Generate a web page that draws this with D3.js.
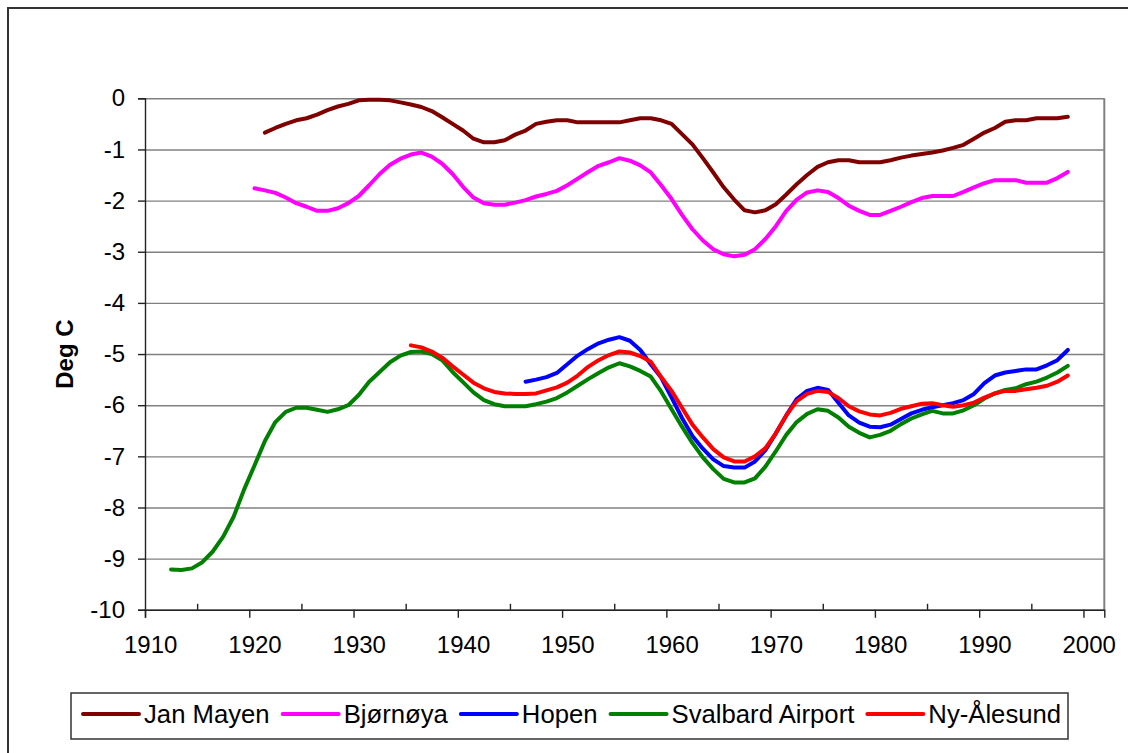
<!DOCTYPE html>
<html><head><meta charset="utf-8">
<script src="https://cdn.jsdelivr.net/npm/d3@7"></script>
<style>
html,body{margin:0;padding:0;background:#fff;}
svg{display:block;font-family:"Liberation Sans",Arial,sans-serif;}
</style></head>
<body>
<svg id="chart" width="1128" height="753"></svg>
<script>
// ---- data ----
const seriesNames = ["Jan Mayen", "Bjørnøya", "Hopen", "Svalbard Airport", "Ny-Ålesund"];
const seriesColors = ["#800000", "#FF00FF", "#0000FF", "#008000", "#FF0000"];

const janMayenStart = 1921;
const janMayen = [-0.67,-0.58,-0.5,-0.43,-0.39,-0.32,-0.23,-0.16,-0.11,-0.04,
  -0.03,-0.03,-0.04,-0.08,-0.12,-0.17,-0.25,-0.37,-0.5,-0.63,
  -0.79,-0.86,-0.86,-0.82,-0.71,-0.63,-0.5,-0.46,-0.43,-0.43,
  -0.47,-0.47,-0.47,-0.47,-0.47,-0.43,-0.39,-0.39,-0.43,-0.5,
  -0.7,-0.9,-1.17,-1.45,-1.74,-1.98,-2.19,-2.23,-2.19,-2.07,
  -1.88,-1.68,-1.5,-1.34,-1.25,-1.21,-1.21,-1.25,-1.25,-1.25,
  -1.21,-1.16,-1.12,-1.09,-1.06,-1.02,-0.97,-0.91,-0.79,-0.67,
  -0.58,-0.46,-0.43,-0.43,-0.39,-0.39,-0.39,-0.36];

const bjornoyaStart = 1920;
const bjornoya = [-1.76,-1.8,-1.85,-1.94,-2.05,-2.12,-2.2,-2.2,-2.15,-2.05,
  -1.91,-1.7,-1.48,-1.3,-1.18,-1.1,-1.06,-1.14,-1.28,-1.48,
  -1.73,-1.94,-2.05,-2.08,-2.08,-2.04,-1.99,-1.92,-1.87,-1.81,
  -1.7,-1.57,-1.44,-1.32,-1.25,-1.17,-1.22,-1.31,-1.45,-1.7,
  -1.97,-2.28,-2.56,-2.78,-2.95,-3.05,-3.09,-3.06,-2.95,-2.75,
  -2.5,-2.2,-1.98,-1.84,-1.8,-1.83,-1.95,-2.1,-2.2,-2.28,
  -2.28,-2.2,-2.12,-2.03,-1.95,-1.91,-1.91,-1.91,-1.83,-1.74,
  -1.66,-1.6,-1.6,-1.6,-1.65,-1.65,-1.65,-1.56,-1.44];

const hopenStart = 1946;
const hopen = [-5.54,-5.5,-5.45,-5.37,-5.2,-5.03,-4.9,-4.79,-4.72,-4.67,
  -4.74,-4.92,-5.2,-5.46,-5.85,-6.25,-6.6,-6.85,-7.06,-7.19,
  -7.22,-7.22,-7.1,-6.88,-6.55,-6.2,-5.88,-5.72,-5.66,-5.7,
  -5.95,-6.2,-6.34,-6.42,-6.43,-6.38,-6.27,-6.16,-6.09,-6.04,
  -6.0,-5.96,-5.9,-5.78,-5.57,-5.42,-5.36,-5.33,-5.3,-5.3,
  -5.22,-5.12,-4.92];

const svalbardStart = 1912;
const svalbard = [-9.21,-9.22,-9.19,-9.07,-8.86,-8.57,-8.18,-7.65,-7.18,-6.7,
  -6.33,-6.13,-6.05,-6.05,-6.09,-6.13,-6.08,-6.0,-5.8,-5.54,
  -5.35,-5.16,-5.03,-4.96,-4.95,-5.0,-5.12,-5.35,-5.55,-5.75,
  -5.9,-5.98,-6.02,-6.02,-6.02,-5.98,-5.93,-5.86,-5.75,-5.62,
  -5.49,-5.37,-5.26,-5.18,-5.24,-5.33,-5.44,-5.73,-6.08,-6.42,
  -6.74,-7.02,-7.25,-7.44,-7.51,-7.51,-7.43,-7.2,-6.9,-6.58,
  -6.33,-6.17,-6.08,-6.11,-6.24,-6.42,-6.54,-6.63,-6.58,-6.5,
  -6.37,-6.26,-6.18,-6.11,-6.16,-6.16,-6.1,-6.0,-5.87,-5.77,
  -5.7,-5.67,-5.59,-5.54,-5.46,-5.36,-5.23];

const nyAlesundStart = 1935;
const nyAlesund = [-4.83,-4.87,-4.95,-5.07,-5.24,-5.4,-5.56,-5.67,-5.74,-5.77,
  -5.78,-5.78,-5.77,-5.71,-5.65,-5.56,-5.42,-5.25,-5.12,-5.02,
  -4.95,-4.97,-5.04,-5.15,-5.45,-5.72,-6.05,-6.38,-6.63,-6.86,
  -7.02,-7.1,-7.1,-7.0,-6.84,-6.55,-6.2,-5.92,-5.78,-5.72,
  -5.74,-5.86,-6.02,-6.12,-6.18,-6.2,-6.15,-6.07,-6.02,-5.97,
  -5.96,-6.0,-6.03,-6.0,-5.95,-5.85,-5.77,-5.72,-5.72,-5.69,
  -5.66,-5.62,-5.54,-5.42];

const xTickLabels = [1910,1920,1930,1940,1950,1960,1970,1980,1990,2000];
const yTickValues = [0,-1,-2,-3,-4,-5,-6,-7,-8,-9,-10];
const yTitle = "Deg C";

// ---- layout ----
const svg = d3.select("#chart");
const L = 145, R = 1104.3, T = 98.3, B = 609.8;

// outer chart border
svg.append("rect").attr("x", 8).attr("y", 8).attr("width", 1140).attr("height", 770)
  .attr("fill", "#fff").attr("stroke", "#333").attr("stroke-width", 2);

const x = d3.scaleLinear().domain([1909.5, 2001.5]).range([L, R]);
const y = d3.scaleLinear().domain([-10, 0]).range([B, T]);

// gridlines
svg.append("g").attr("transform", `translate(${L},0)`)
  .call(d3.axisLeft(y).tickValues(yTickValues).tickSize(-(R - L)).tickFormat(""))
  .call(g => g.select(".domain").remove())
  .call(g => g.selectAll("line").attr("stroke", "#808080").attr("stroke-width", 1.4));

// right border of plot
svg.append("line").attr("x1", R).attr("x2", R).attr("y1", T).attr("y2", B)
  .attr("stroke", "#808080").attr("stroke-width", 2);

// y axis
svg.append("g").attr("transform", `translate(${L},0)`)
  .call(d3.axisLeft(y).tickValues(yTickValues).tickSize(7).tickPadding(13).tickFormat(d => String(d)))
  .call(g => g.select(".domain").attr("stroke", "#222").attr("stroke-width", 1.4))
  .call(g => g.selectAll("line").attr("stroke", "#222").attr("stroke-width", 1.4))
  .call(g => g.selectAll("text").attr("font-size", 24).attr("fill", "#000")
    .attr("font-family", "'Liberation Sans', Arial, sans-serif"));

// x axis: major ticks (outside), minor ticks (inside), labels
const majorTicks = xTickLabels.map(v => v - 0.5);
const minorTicks = xTickLabels.slice(0, -1).map(v => v + 4.5);
svg.append("g").attr("transform", `translate(0,${B})`)
  .call(d3.axisBottom(x).tickValues(majorTicks).tickSize(8).tickFormat(""))
  .call(g => g.select(".domain").attr("stroke", "#222").attr("stroke-width", 1.4))
  .call(g => g.selectAll("line").attr("stroke", "#222").attr("stroke-width", 1.4));
svg.append("g").attr("transform", `translate(0,${B})`)
  .call(d3.axisBottom(x).tickValues(minorTicks).tickSize(-6).tickFormat(""))
  .call(g => g.select(".domain").remove())
  .call(g => g.selectAll("line").attr("stroke", "#222").attr("stroke-width", 1.4));
svg.append("g").attr("transform", `translate(0,${B})`)
  .call(d3.axisBottom(x).tickValues(xTickLabels).tickSize(0).tickPadding(26).tickFormat(d => String(d)))
  .call(g => g.select(".domain").remove())
  .call(g => g.selectAll("text").attr("font-size", 24).attr("fill", "#000")
    .attr("font-family", "'Liberation Sans', Arial, sans-serif"));

// y title
svg.append("text").attr("transform", `translate(73,${(T + B) / 2}) rotate(-90)`)
  .attr("text-anchor", "middle").attr("font-size", 24).attr("font-weight", "bold")
  .text(yTitle);

// series
const allSeries = [
  {start: janMayenStart, values: janMayen},
  {start: bjornoyaStart, values: bjornoya},
  {start: hopenStart, values: hopen},
  {start: svalbardStart, values: svalbard},
  {start: nyAlesundStart, values: nyAlesund}
];
const line = d3.line().x(d => x(d[0])).y(d => y(d[1]));
allSeries.forEach((s, i) => {
  const pts = s.values.map((v, k) => [s.start + k, v]);
  svg.append("path").datum(pts).attr("d", line)
    .attr("fill", "none").attr("stroke", seriesColors[i]).attr("stroke-width", 4)
    .attr("stroke-linejoin", "round").attr("stroke-linecap", "round");
});

// legend
const legend = svg.append("g");
legend.append("rect").attr("x", 71).attr("y", 693).attr("width", 997).attr("height", 46)
  .attr("fill", "#fff").attr("stroke", "#333").attr("stroke-width", 1.5);
let lx = 83;
const ly = 714;
seriesNames.forEach((name, i) => {
  legend.append("line").attr("x1", lx).attr("x2", lx + 56).attr("y1", ly).attr("y2", ly)
    .attr("stroke", seriesColors[i]).attr("stroke-width", 4).attr("stroke-linecap", "round");
  const t = legend.append("text").attr("x", lx + 61).attr("y", ly + 9)
    .attr("font-size", 25.7).attr("fill", "#000").text(name);
  lx += 61 + t.node().getComputedTextLength() + 13;
});
</script>
</body></html>
